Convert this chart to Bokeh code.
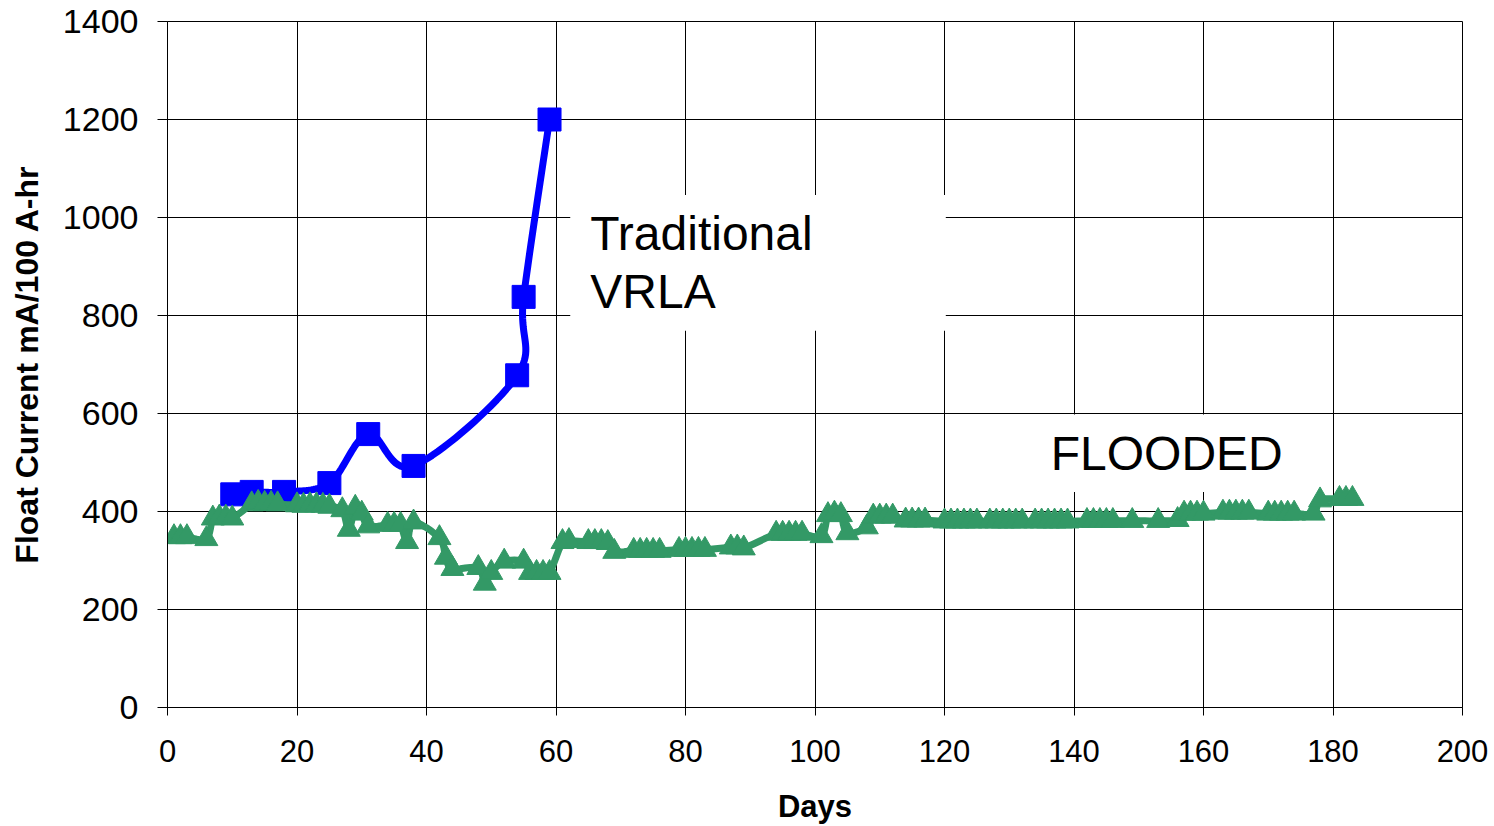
from bokeh.plotting import figure
from bokeh.models import Range1d, FixedTicker, Label
from bokeh.embed import file_html
from bokeh.resources import INLINE

# ---- data ----
vrla_days = [10, 13, 18, 25, 31, 38, 54, 55, 59]
vrla_current = [435, 440, 440, 458, 558, 493, 678, 838, 1200]

flooded_days = [1, 2, 3, 6, 7, 8, 9, 10, 13, 14, 15, 16, 17, 20, 21, 22, 23, 24, 25,
                27, 28, 29, 30, 31, 34, 35, 36, 37, 38, 42, 43, 44, 48, 49, 50, 52,
                55, 56, 57, 58, 59, 61, 62, 65, 66, 67, 68, 69, 72, 73, 74, 75, 76,
                79, 80, 81, 82, 83, 87, 88, 89, 94, 95, 96, 97, 98, 101, 102, 103,
                104, 105, 108, 109, 110, 111, 112, 114, 115, 116, 117, 120, 121, 122,
                123, 124, 125, 127, 128, 129, 130, 131, 132, 134, 135, 136, 137, 138,
                139, 142, 143, 144, 145, 146, 149, 153, 156, 157, 158, 159, 160, 163,
                164, 165, 166, 167, 170, 171, 172, 173, 174, 177, 178, 181, 182, 183]
flooded_current = [348, 348, 348, 344, 386, 388, 388, 386, 415, 418, 416, 416, 415, 413, 412, 413, 413, 412, 410,
                   403, 363, 408, 396, 370, 373, 373, 373, 338, 378, 346, 306, 283, 285, 253, 275, 298,
                   298, 275, 275, 275, 275, 338, 340, 338, 338, 338, 336, 318, 320, 320, 320, 320, 320,
                   322, 322, 322, 322, 322, 327, 327, 325, 355, 355, 355, 355, 355, 350, 393, 396,
                   393, 356, 368, 390, 390, 390, 390, 382, 382, 382, 382, 380, 380, 380,
                   380, 380, 380, 380, 380, 380, 380, 380, 380, 380, 380, 380, 380, 380,
                   380, 381, 381, 381, 381, 381, 381, 381, 383, 396, 396, 396, 396, 398,
                   398, 398, 398, 398, 396, 396, 396, 396, 396, 396, 423, 426, 426, 426]

x_ticks = [0, 20, 40, 60, 80, 100, 120, 140, 160, 180, 200]
y_ticks = [0, 200, 400, 600, 800, 1000, 1200, 1400]

FONT = "Liberation Sans"
BLUE = "#0000FF"
GREEN = "#339966"

# pixel scale factors used to smooth in screen space (like Excel's smoothed line)
SX = 1295 / 200.0
SY = 688 / 1400.0


def smooth(xs, ys, n=20):
    P = [(x * SX, y * SY) for x, y in zip(xs, ys)]
    m = len(P)
    ox, oy = [], []
    for i in range(m - 1):
        p0 = P[i - 1] if i > 0 else P[i]
        p1 = P[i]
        p2 = P[i + 1]
        p3 = P[i + 2] if i + 2 < m else P[i + 1]
        c1 = (p1[0] + (p2[0] - p0[0]) / 6.0, p1[1] + (p2[1] - p0[1]) / 6.0)
        c2 = (p2[0] - (p3[0] - p1[0]) / 6.0, p2[1] - (p3[1] - p1[1]) / 6.0)
        for k in range(n):
            t = k / float(n)
            a = (1 - t) ** 3
            b = 3 * (1 - t) ** 2 * t
            c = 3 * (1 - t) * t ** 2
            d = t ** 3
            ox.append((a * p1[0] + b * c1[0] + c * c2[0] + d * p2[0]) / SX)
            oy.append((a * p1[1] + b * c1[1] + c * c2[1] + d * p2[1]) / SY)
    ox.append(P[-1][0] / SX)
    oy.append(P[-1][1] / SY)
    return ox, oy


p = figure(width=1494, height=826, output_backend="svg", toolbar_location=None,
           x_range=Range1d(0, 200), y_range=Range1d(0, 1400),
           min_border_left=167, min_border_right=32, min_border_top=21, min_border_bottom=117)

p.background_fill_color = "white"
p.border_fill_color = "white"
p.outline_line_color = "black"
p.outline_line_width = 1

for ax in (p.xaxis, p.yaxis):
    ax.axis_line_color = "black"
    ax.axis_line_width = 1
    ax.major_tick_line_color = "black"
    ax.major_tick_in = 0
    ax.minor_tick_line_color = None
    ax.major_label_text_font = FONT
    ax.major_label_text_color = "black"
    ax.axis_label_text_font = FONT
    ax.axis_label_text_font_style = "bold"
    ax.axis_label_text_color = "black"

p.xaxis.major_label_text_font_size = "31px"
p.yaxis.major_label_text_font_size = "34px"
p.xaxis.axis_label_text_font_size = "31px"
p.yaxis.axis_label_text_font_size = "32px"

p.xaxis.ticker = FixedTicker(ticks=x_ticks)
p.yaxis.ticker = FixedTicker(ticks=y_ticks)
p.xaxis.major_tick_out = 8
p.yaxis.major_tick_out = 10
p.xaxis.major_label_standoff = 24
p.yaxis.major_label_standoff = 19
p.xaxis.axis_label = "Days"
p.yaxis.axis_label = "Float Current mA/100 A-hr"
p.xaxis.axis_label_standoff = 24
p.yaxis.axis_label_standoff = 15

for g in (p.xgrid, p.ygrid):
    g.grid_line_color = "black"
    g.grid_line_width = 1
p.xgrid.ticker = FixedTicker(ticks=x_ticks)
p.ygrid.ticker = FixedTicker(ticks=y_ticks)

# white label boxes (cover the grid)
p.quad(left=62.2, right=120.2, bottom=769, top=1046, fill_color="white", line_color=None)
p.quad(left=134.8, right=173.4, bottom=440, top=598, fill_color="white", line_color=None)

# VRLA series
vx, vy = smooth(vrla_days, vrla_current)
p.line(vx, vy, line_color=BLUE, line_width=7, line_join="round", line_cap="round")
p.scatter(vrla_days, vrla_current, marker="square", size=23, fill_color=BLUE, line_color=BLUE)

# Flooded series
fx, fy = smooth(flooded_days, flooded_current, n=6)
p.line(fx, fy, line_color=GREEN, line_width=7, line_join="round", line_cap="round")
p.scatter(flooded_days, flooded_current, marker="triangle", size=23, fill_color=GREEN, line_color=GREEN)

for txt, x, y in (("Traditional", 65.3, 967), ("VRLA", 65.3, 849), ("FLOODED", 136.4, 519)):
    p.add_layout(Label(x=x, y=y, text=txt, text_font=FONT, text_font_size="48px",
                       text_color="black", text_baseline="alphabetic", text_align="left"))

open("out.html", "w").write(file_html(p, INLINE))
